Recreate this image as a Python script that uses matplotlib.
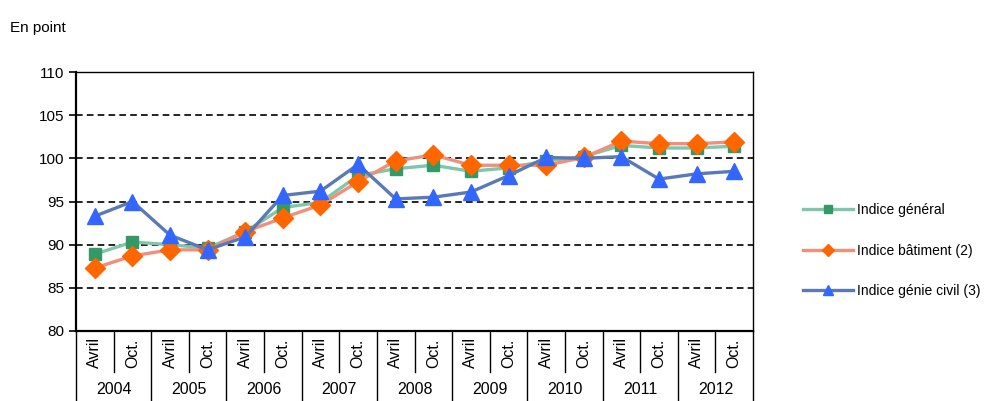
import matplotlib
matplotlib.use("Agg")
from matplotlib import pyplot as plt
import matplotlib.transforms as mtransforms

plt.rcParams['font.family'] = ['Liberation Sans Narrow', 'Liberation Sans', 'DejaVu Sans']

# ----------------------- Data -----------------------
years = ["2004", "2005", "2006", "2007", "2008", "2009", "2010", "2011", "2012"]
months = ["Avril", "Oct."]

indice_general = [88.9, 90.3, 90.0, 89.6, 91.5, 94.3, 94.9, 98.0,
                  98.8, 99.2, 98.5, 98.9, 99.7, 100.2, 101.5, 101.2, 101.2, 101.4]
indice_batiment = [87.3, 88.7, 89.4, 89.4, 91.5, 93.1, 94.6, 97.3,
                   99.7, 100.4, 99.2, 99.2, 99.2, 100.1, 102.0, 101.7, 101.7, 101.9]
indice_genie_civil = [93.3, 95.0, 91.1, 89.4, 90.9, 95.7, 96.2, 99.3,
                      95.3, 95.5, 96.1, 98.0, 100.1, 100.0, 100.2, 97.6, 98.2, 98.5]

labels = ["Indice général", "Indice bâtiment (2)", "Indice génie civil (3)"]

# ----------------------- Plot -----------------------
fig = plt.figure(figsize=(9.9, 4.01), dpi=100)
ax = fig.add_axes([0.0768, 0.1746, 0.6838, 0.6458])

x = list(range(len(indice_general)))
ax.plot(x, indice_general, color="#7fc6ad", lw=2.4, marker="s", ms=9,
        mfc="#339966", mec="#339966", label=labels[0], zorder=3)
ax.plot(x, indice_batiment, color="#f0907a", lw=2.4, marker="D", ms=10,
        mfc="#ff6600", mec="#ff6600", label=labels[1], zorder=4)
ax.plot(x, indice_genie_civil, color="#5b7ab5", lw=2.4, marker="^", ms=11,
        mfc="#3366ff", mec="#3366ff", label=labels[2], zorder=5)

ax.set_xlim(-0.5, len(x) - 0.5)
ax.set_ylim(80, 110)
ax.set_yticks(range(80, 111, 5))
ax.tick_params(axis="y", labelsize=11, length=5, width=1.2, direction="out")
ax.set_xticks([])
for v in range(85, 111, 5):
    ax.axhline(v, color="black", lw=1.2, ls=(0, (4, 2.5)), zorder=1)

for s in ["left", "bottom"]:
    ax.spines[s].set_linewidth(1.6)
for s in ["top", "right"]:
    ax.spines[s].set_linewidth(1.0)

# two-level category axis
trans = mtransforms.blended_transform_factory(ax.transData, ax.transAxes)
for i in range(len(x)):
    ax.text(i, -0.085, months[i % 2], rotation=90, ha="center", va="center",
            fontsize=11.5, transform=trans)
for i in range(len(x) + 1):
    bottom = -0.27 if i % 2 == 0 else -0.158
    ax.plot([i - 0.5, i - 0.5], [0, bottom], color="black", lw=1.0,
            transform=trans, clip_on=False)
for j, yr in enumerate(years):
    ax.text(2 * j + 0.5, -0.226, yr, ha="center", va="center",
            fontsize=11.5, transform=trans)

fig.text(0.010, 0.930, "En point", fontsize=11, ha="left", va="center")

ax.legend(loc="center left", bbox_to_anchor=(1.055, 0.31), frameon=False,
          fontsize=10, handlelength=3.6, labelspacing=1.9, handletextpad=0.3,
          markerscale=0.6)

fig.savefig("out.png", dpi=100)
